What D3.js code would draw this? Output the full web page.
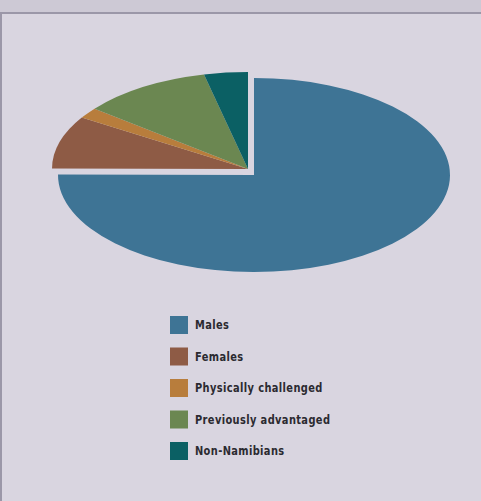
<!DOCTYPE html>
<html>
<head>
<meta charset="utf-8">
<script src="https://cdn.jsdelivr.net/npm/d3@7"></script>
<style>
  html, body { margin: 0; padding: 0; background: #d9d5e0; }
  svg { display: block; }
</style>
</head>
<body>
<svg id="chart" width="481" height="501"></svg>
<script>
// Workforce composition shares (percent)
const categories = ["Males", "Females", "Physically challenged", "Previously advantaged", "Non-Namibians"];
const shares = [75.0, 8.8, 1.8, 10.7, 3.6];
const colors = ["#3e7495", "#8e5b45", "#b87d3c", "#6b8751", "#0b6064"];

const W = 481, H = 501;
const svg = d3.select("#chart");

// Panel: top band, frame lines, body
svg.append("rect").attr("x", 0).attr("y", 0).attr("width", W).attr("height", H).attr("fill", "#d9d5e0");
svg.append("rect").attr("x", 0).attr("y", 0).attr("width", W).attr("height", 12).attr("fill", "#cdc9d5");
svg.append("rect").attr("x", 0).attr("y", 12).attr("width", W).attr("height", 2).attr("fill", "#9b97a8");
svg.append("rect").attr("x", 0).attr("y", 12).attr("width", 2).attr("height", H - 12).attr("fill", "#9b97a8");

// Flattened pie: drawn on a circle, squashed vertically
const cx = 248, cy = 169, rx = 196, ry = 97;
const arcsData = d3.pie().sort(null).value(d => d)(shares);
const arc = d3.arc().innerRadius(0).outerRadius(rx);

// explode offset (screen px) for the Males slice
const explode = [6, 6];

const pieG = svg.append("g");
arcsData.forEach((a, i) => {
  const dx = i === 0 ? explode[0] : 0;
  const dy = i === 0 ? explode[1] : 0;
  pieG.append("path")
    .attr("d", arc(a))
    .attr("fill", colors[i])
    .attr("transform", `translate(${cx + dx},${cy + dy}) scale(1,${ry / rx})`);
});

// Legend
const legendY = d3.scalePoint().domain(categories).range([325, 451]);
const legend = svg.append("g");
categories.forEach((c, i) => {
  const y = legendY(c);
  legend.append("rect")
    .attr("x", 170).attr("y", y - 9).attr("width", 18).attr("height", 18)
    .attr("fill", colors[i]);
  legend.append("text")
    .attr("transform", `translate(195,${y + 4}) scale(0.77,1)`)
    .attr("font-family", "'DejaVu Sans', sans-serif")
    .attr("font-weight", "bold")
    .attr("font-size", 12.8)
    .attr("letter-spacing", 0.5)
    .attr("fill", "#2b2a30")
    .text(c);
});
</script>
</body>
</html>
